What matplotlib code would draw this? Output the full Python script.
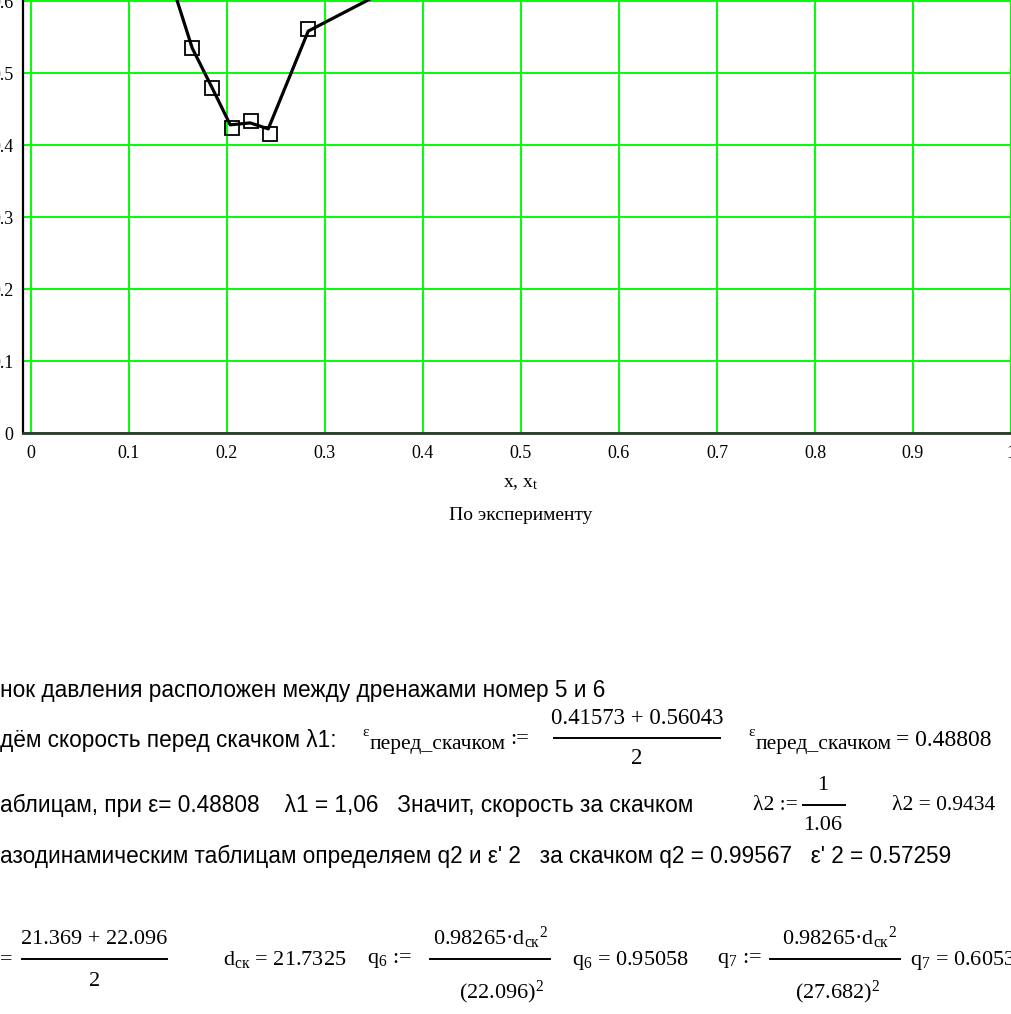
import numpy as np
import matplotlib
matplotlib.use("Agg")
import matplotlib.pyplot as plt
from matplotlib.lines import Line2D

plt.rcParams["mathtext.fontset"] = "custom"
plt.rcParams["mathtext.rm"] = "Liberation Serif"
plt.rcParams["mathtext.it"] = "Liberation Serif:italic"

# данные графика (x, x_t)
x_line = [0.1441, 0.1645, 0.1849, 0.2033, 0.2237, 0.2421, 0.2829, 0.40]
y_line = [0.622, 0.5346, 0.4792, 0.4280, 0.4307, 0.4224, 0.5582, 0.641]
x_t = [0.1645, 0.1849, 0.2053, 0.2247, 0.2441, 0.2829]
y_t = [0.5346, 0.4792, 0.4238, 0.4335, 0.41573, 0.56043]

x_ticks = [0, 0.1, 0.2, 0.3, 0.4, 0.5, 0.6, 0.7, 0.8, 0.9, 1.0]
x_labels = ["0", "0.1", "0.2", "0.3", "0.4", "0.5", "0.6", "0.7", "0.8", "0.9", "1"]
y_ticks = [0, 0.1, 0.2, 0.3, 0.4, 0.5, 0.6]
y_labels = ["0", "0.1", "0.2", "0.3", "0.4", "0.5", "0.6"]

W, H = 1012, 1014
fig = plt.figure(figsize=(W / 100, H / 100), dpi=100)

# оси: 0 по x на 31px, 1 на 1011px; 0 по y на 433px, 0.1 = 72px
x0, y0, kx, ky = 22.7, 433, 980.0, 720.0
xmin, xmax, ymax = (x0 - 31) / kx, 1.02, 0.7
ax = fig.add_axes([x0 / W, (H - y0) / H, (xmax - xmin) * kx / W, ymax * ky / H])
ax.plot(x_line, y_line, "-", color="k", lw=2.3, zorder=3)
ax.plot(x_t, y_t, "s", ms=9.5, mfc="none", mec="k", mew=1.3, zorder=4)
ax.set_xlim(xmin, xmax)
ax.set_ylim(0, ymax)
ax.set_xticks(x_ticks)
ax.set_xticklabels(x_labels, family="Liberation Serif", fontsize=13)
ax.set_yticks(y_ticks)
ax.set_yticklabels(y_labels, family="Liberation Serif", fontsize=13)
ax.tick_params(length=0)
ax.tick_params(axis="x", pad=9)
ax.tick_params(axis="y", pad=6.5)
ax.grid(True, color="#00ff00", lw=1.4)
ax.set_axisbelow(True)
for s in ["top", "right"]:
    ax.spines[s].set_visible(False)
ax.spines["left"].set_linewidth(1.6)
ax.spines["bottom"].set_linewidth(2.0)
ax.spines["bottom"].set_color("#333333")


def T(x, y, s, ha="left", fam="Liberation Sans", size=16.3, **kw):
    fig.text(x / W, 1 - y / H, s, ha=ha, va="center", family=fam, fontsize=size, **kw)


def M(x, y, s, ha="left", size=16, **kw):
    T(x, y, s, ha=ha, fam="Liberation Serif", size=size, **kw)


def bar(xa, xb, y):
    fig.add_artist(Line2D([xa / W, xb / W], [1 - y / H, 1 - y / H], color="k", lw=1.4,
                          transform=fig.transFigure))


def eps_sub(x, y):
    # ε с нижним индексом "перед_скачком", как в Mathcad
    M(x, y - 8, "ε", size=11)
    M(x + 8, y + 4, "перед_скачком", size=15.5)


M(521, 483, "x, x$_{\\mathrm{t}}$", ha="center", size=14)
M(521, 515, "По эксперименту", ha="center", size=14)

# текст под графиком
T(0, 690, "нок давления расположен между дренажами номер 5 и 6")

T(0, 740, "дём скорость перед скачком λ1:")
eps_sub(362, 740)
M(510, 740, ":=")
M(637, 719, "0.41573 + 0.56043", ha="center", size=16.5)
bar(554, 720, 738)
M(637, 759, "2", ha="center", size=16.5)
eps_sub(748, 740)
M(896, 740, "= 0.48808", size=17)

T(0, 805, "аблицам, при ε= 0.48808    λ1 = 1,06   Значит, скорость за скачком")
M(753, 805, "λ2 :=", size=15.5)
M(823, 785, "1", ha="center", size=16)
bar(803, 845, 805)
M(823, 826, "1.06", ha="center", size=16)
M(892, 805, "λ2 = 0.9434", size=15.5)

T(0, 856, "азодинамическим таблицам определяем q2 и ε' 2   за скачком q2 = 0.99567   ε' 2 = 0.57259")

M(0, 960, "=")
M(94, 940, "21.369 + 22.096", ha="center")
bar(22, 167, 959)
M(95, 981, "2", ha="center")
M(223, 960, "d$_{\\mathrm{ск}}$ = 21.7325")
M(367, 960, "q$_{6}$ :=")
M(491, 938, "0.98265·d$_{\\mathrm{ск}}$$^{2}$", ha="center")
bar(430, 550, 959)
M(502, 992, "(22.096)$^{2}$", ha="center")
M(572, 960, "q$_{6}$ = 0.95058")
M(717, 960, "q$_{7}$ :=")
M(840, 938, "0.98265·d$_{\\mathrm{ск}}$$^{2}$", ha="center")
bar(770, 900, 959)
M(838, 992, "(27.682)$^{2}$", ha="center")
M(910, 960, "q$_{7}$ = 0.60535")

fig.savefig("out.png", dpi=100)
